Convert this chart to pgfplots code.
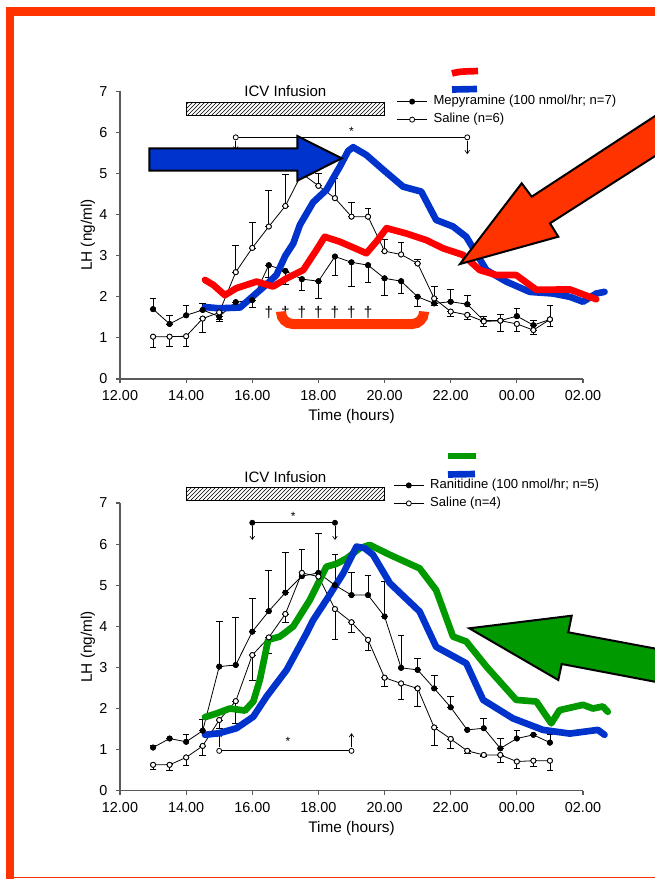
\documentclass[border=0pt]{standalone}
\usepackage{fontspec}
\setmainfont{Liberation Sans}
\usepackage{pgfplots}
\pgfplotsset{compat=1.18}
\usepackage{pgfplotstable}
\usetikzlibrary{patterns,arrows.meta}
\definecolor{myblue}{RGB}{0,51,204}
\definecolor{myred}{RGB}{255,0,0}
\definecolor{myorange}{RGB}{255,51,0}
\definecolor{mygreen}{RGB}{0,153,0}
\definecolor{axgray}{RGB}{90,90,90}

\pgfplotstableread{
t v ep em
13.0 1.70 0.26 0
13.5 1.34 0.20 0
14.0 1.55 0.23 0
14.5 1.68 0.15 0
15.0 1.52 0 0.12
15.5 1.87 0 0.08
16.0 1.92 0 0.17
16.5 2.77 0 0.30
17.0 2.63 0 0.34
17.5 2.43 0 0.28
18.0 2.38 0 0.43
18.5 2.98 0 0.46
19.0 2.84 0 0.58
19.5 2.77 0 0.43
20.0 2.45 0 0.41
20.5 2.38 0 0.30
21.0 2.00 0 0.24
21.5 1.84 0.42 0
22.0 1.88 0.29 0
22.5 1.82 0.22 0
23.0 1.42 0.11 0
23.5 1.42 0.15 0
24.0 1.53 0.20 0
24.5 1.31 0.11 0
25.0 1.45 0 0
}\mT

\pgfplotstableread{
t v ep em
13.0 1.03 0 0.27
13.5 1.03 0 0.24
14.0 1.04 0 0.25
14.5 1.47 0 0.34
15.0 1.62 0 0.18
15.5 2.60 0.64 0
16.0 3.19 0.61 0
16.5 3.71 0.87 0
17.0 4.21 0.77 0
17.5 5.00 0 0
18.0 4.70 0.30 0
18.5 4.40 0.48 0
19.0 3.95 0.34 0
19.5 3.95 0.19 0
20.0 3.11 0.28 0
20.5 3.03 0.29 0
21.0 2.81 0.09 0
21.5 1.96 0 0.17
22.0 1.64 0 0.12
22.5 1.56 0 0.10
23.0 1.40 0 0.11
23.5 1.42 0 0.27
24.0 1.34 0 0.17
24.5 1.19 0 0.10
25.0 1.45 0.35 0.18
}\sT

\pgfplotstableread{
t v ep em
13.0 1.05 0.06 0
13.5 1.27 0 0
14.0 1.19 0.19 0
14.5 1.46 0.28 0
15.0 3.02 1.09 0
15.5 3.06 1.16 0
16.0 3.87 0.80 0
16.5 4.37 0.98 0
17.0 4.82 0.97 0
17.5 5.22 0.64 0
18.0 5.30 0.95 0
18.5 5.00 0.74 0
19.0 4.76 0.55 0
19.5 4.76 0.49 0
20.0 4.24 0.85 0
20.5 2.99 0.78 0
21.0 2.94 0.28 0
21.5 2.49 0.31 0
22.0 2.03 0.26 0
22.5 1.48 0 0
23.0 1.52 0.24 0
23.5 1.03 0.24 0
24.0 1.27 0.19 0
24.5 1.36 0 0
25.0 1.17 0.21 0
}\rB

\pgfplotstableread{
t v ep em
13.0 0.63 0 0.11
13.5 0.63 0 0.13
14.0 0.81 0 0.20
14.5 1.09 0 0.22
15.0 1.72 0 0.20
15.5 2.18 0 0.54
16.0 3.30 0 0.62
16.5 3.73 0 0.39
17.0 4.30 0 0.20
17.5 5.30 0 0
18.0 5.21 0 0
18.5 4.42 0 0.74
19.0 4.10 0 0.25
19.5 3.67 0 0.26
20.0 2.75 0 0.22
20.5 2.61 0 0.38
21.0 2.49 0 0.45
21.5 1.54 0 0.43
22.0 1.26 0 0.23
22.5 0.97 0 0.06
23.0 0.87 0 0.04
23.5 0.87 0 0.17
24.0 0.71 0 0.16
24.5 0.73 0 0.13
25.0 0.73 0 0.23
}\sB

\pgfplotsset{
 lhaxis/.style={
  scale only axis, width=347.25pt, height=215.78pt,
  xmin=12, xmax=26, ymin=0, ymax=7,
  axis x line*=bottom, axis y line*=left,
  axis line style={axgray, line width=0.8pt},
  tick style={axgray, line width=0.8pt},
  tick align=outside, major tick length=3pt,
  xtick={12,14,...,26},
  xticklabels={12.00,14.00,16.00,18.00,20.00,22.00,00.00,02.00},
  ytick={0,1,...,7},
  /pgf/number format/assume math mode=true,
  ticklabel style={font=\fontsize{10.8}{12}\selectfont},
  xticklabel style={yshift=-2pt},
  yticklabel style={xshift=-3pt},
  xlabel={Time (hours)}, ylabel={LH (ng/ml)},
  label style={font=\fontsize{11.5}{13}\selectfont},
  xlabel style={at={(axis description cs:0.5,-0.132)}, anchor=center},
  ylabel style={at={(axis description cs:-0.0691,0.5)}, anchor=center},
  clip=false,
  legend style={draw=none, fill=none, font=\fontsize{9.8}{11}\selectfont,
    inner sep=0pt, row sep=1.5pt, column sep=3pt,
    nodes={inner sep=1.5pt, text height=7pt, text depth=2pt}},
  legend cell align=left,
  legend image code/.code={\draw[#1, mark repeat=2, mark phase=2] plot coordinates {(0pt,0pt) (11.25pt,0pt) (22.5pt,0pt)};},
 },
 errp/.style={black, only marks, mark=none, forget plot,
   error bars/.cd, y dir=both, y explicit,
   error bar style={black, line width=0.6pt},
   error mark options={black, line width=0.6pt, mark size=2.5pt, rotate=90}},
 filled/.style={black, line width=0.6pt, mark=*, mark size=1.9pt, mark options={fill=black, solid}},
 hollow/.style={black, line width=0.6pt, mark=*, mark size=1.9pt, mark options={fill=white, solid}},
 trace/.style={line width=5pt, line join=round, line cap=round, forget plot},
}

\begin{document}
\begin{tikzpicture}
\path[use as bounding box] (0,0) rectangle (490.5pt,-659.25pt);

% ---------------- top panel ----------------
\begin{axis}[lhaxis, at={(90pt,-284.25pt)}, anchor=south west,
  legend style={at={(axis cs:20.36,6.53)}, anchor=west}]
\draw[black, line width=0.6pt, pattern=north east lines] (axis cs:14,6.42) rectangle (axis cs:20,6.72);
\node[font=\fontsize{11.3}{13}\selectfont] at (axis cs:17,7.0) {ICV Infusion};

\addplot[errp] table[x=t, y=v, y error plus=ep, y error minus=em] {\mT};
\addplot[errp] table[x=t, y=v, y error plus=ep, y error minus=em] {\sT};
\addplot[filled] table[x=t, y=v] {\mT};
\addlegendentry{Mepyramine (100 nmol/hr; n=7)}
\addplot[hollow] table[x=t, y=v] {\sT};
\addlegendentry{Saline (n=6)}

% significance line
\addplot[hollow, forget plot] coordinates {(15.5,5.88) (22.5,5.88)};
\draw[black, line width=0.5pt, -{Straight Barb[length=2.5pt,width=3.5pt]}] (axis cs:15.5,5.80) -- (axis cs:15.5,5.56);
\draw[black, line width=0.5pt, -{Straight Barb[length=2.5pt,width=3.5pt]}] (axis cs:22.5,5.80) -- (axis cs:22.5,5.47);
\node[font=\fontsize{9}{10}\selectfont] at (axis cs:19.0,6.02) {*};
\pgfplotsinvokeforeach{16.5,17,17.5,18,18.5,19,19.5}{\node[font=\fontsize{11.5}{12}\selectfont] at (axis cs:#1,1.63) {\textdagger};}

% overlaid traces
\addplot[trace, myblue] coordinates {(14.57,1.75) (15.0,1.72) (15.63,1.74) (16.0,2.0) (16.4,2.28) (16.73,2.53) (17.0,3.0) (17.24,3.3) (17.44,3.75) (17.84,4.3) (18.24,4.6) (18.65,5.17) (18.9,5.55) (19.05,5.64) (19.45,5.45) (19.96,5.09) (20.56,4.68) (21.11,4.56) (21.56,3.87) (22.07,3.71) (22.47,3.46) (22.77,3.06) (23.08,2.65) (23.68,2.37) (24.39,2.12) (25.09,2.08) (25.6,2.0) (26.0,1.88) (26.4,2.08) (26.65,2.12)};
\addplot[trace, myred] coordinates {(14.57,2.41) (14.82,2.29) (15.17,2.04) (15.52,2.21) (16.13,2.37) (16.63,2.25) (17.04,2.45) (17.54,2.65) (17.94,3.14) (18.19,3.46) (18.65,3.34) (19.45,3.06) (19.75,3.34) (20.06,3.67) (20.66,3.54) (21.26,3.38) (21.77,3.18) (22.37,3.02) (22.88,2.65) (23.38,2.53) (23.98,2.53) (24.59,2.17) (25.6,2.18) (26.4,1.94)};
\end{axis}

% ---------------- bottom panel ----------------
\begin{axis}[lhaxis, at={(90pt,-593.03pt)}, anchor=south west,
  legend style={at={(axis cs:20.26,7.21)}, anchor=west}]
\draw[black, line width=0.6pt, pattern=north east lines] (axis cs:14,7.07) rectangle (axis cs:20,7.38);
\node[font=\fontsize{11.3}{13}\selectfont] at (axis cs:17,7.64) {ICV Infusion};

\addplot[errp] table[x=t, y=v, y error plus=ep, y error minus=em] {\rB};
\addplot[errp] table[x=t, y=v, y error plus=ep, y error minus=em] {\sB};
\addplot[filled] table[x=t, y=v] {\rB};
\addlegendentry{Ranitidine (100 nmol/hr; n=5)}
\addplot[hollow] table[x=t, y=v] {\sB};
\addlegendentry{Saline (n=4)}

\addplot[filled, forget plot] coordinates {(16.0,6.52) (18.5,6.52)};
\draw[black, line width=0.5pt, -{Straight Barb[length=2.5pt,width=3.5pt]}] (axis cs:16.0,6.44) -- (axis cs:16.0,6.10);
\draw[black, line width=0.5pt, -{Straight Barb[length=2.5pt,width=3.5pt]}] (axis cs:18.5,6.44) -- (axis cs:18.5,6.10);
\node[font=\fontsize{9}{10}\selectfont] at (axis cs:17.24,6.67) {*};

\addplot[hollow, forget plot] coordinates {(15.0,0.97) (19.0,0.97)};
\draw[black, line width=0.5pt, -{Straight Barb[length=2.5pt,width=3.5pt]}] (axis cs:15.0,1.06) -- (axis cs:15.0,1.40);
\draw[black, line width=0.5pt, -{Straight Barb[length=2.5pt,width=3.5pt]}] (axis cs:19.0,1.06) -- (axis cs:19.0,1.40);
\node[font=\fontsize{9}{10}\selectfont] at (axis cs:17.08,1.19) {*};

\addplot[trace, mygreen] coordinates {(14.57,1.79) (14.92,1.88) (15.32,2.0) (15.78,1.95) (16.03,2.17) (16.23,2.7) (16.48,3.67) (16.83,3.75) (17.0,3.85) (17.24,4.0) (17.74,4.64) (18.24,5.45) (18.54,5.52) (18.85,5.65) (19.25,5.90) (19.55,5.98) (20.16,5.74) (21.06,5.41) (21.56,4.88) (22.07,3.75) (22.47,3.63) (23.08,3.02) (23.98,2.21) (24.59,2.17) (25.04,1.64) (25.29,1.96) (26.0,2.09) (26.3,2.0) (26.6,2.05) (26.75,1.92)};
\addplot[trace, myblue] coordinates {(14.57,1.36) (15.0,1.40) (15.52,1.52) (16.03,1.80) (16.43,2.29) (17.04,2.94) (17.64,3.83) (17.84,4.15) (18.24,4.64) (18.75,5.29) (19.15,5.94) (19.4,5.9) (19.65,5.74) (20.16,5.05) (21.06,4.36) (21.56,3.50) (22.47,3.10) (22.98,2.21) (23.88,1.76) (24.79,1.48) (25.6,1.39) (26.45,1.48) (26.65,1.36)};
\end{axis}

% ---------------- decorations (pixel units) ----------------
\begin{scope}[x=0.75pt, y=-0.75pt]
% frame
\fill[myorange] (6,7) rectangle (660,16);
\fill[myorange] (6,7) rectangle (14,880);
\fill[myorange] (14,876.5) rectangle (660,878);
% small colour keys
\draw[myred, line width=5pt] (452,73.5) .. controls (460,71) and (468,71.5) .. (478,71);
\draw[myblue, line width=5pt] (452,89.5) -- (477,89);
\draw[mygreen, line width=5pt] (448,456) -- (476,456);
\draw[myblue, line width=5pt] (448,474.5) -- (475,474);
% bracket
\draw[myorange, line width=7.5pt, rounded corners=9pt] (281,313.3) -- (281,324) -- (424,324) -- (424,313.3);
% blue arrow
\draw[black, line width=1.5pt, fill=myblue, line join=miter] (149.3,148.3) -- (297.3,148.3) -- (297.3,136) -- (341.7,158.3) -- (297.3,180.7) -- (297.3,170.7) -- (149.3,170.7) -- cycle;
% orange arrow
\draw[black, line width=1.5pt, fill=myorange, line join=miter] (680,99.7) -- (531.7,196.7) -- (521.7,183.3) -- (460,264) -- (558.3,236.7) -- (550,223.3) -- (680,140.1);
% green arrow
\draw[black, line width=1.5pt, fill=mygreen, line join=miter] (680,653.2) -- (568.3,632.3) -- (571.7,615.7) -- (469.3,628.3) -- (558.3,680) -- (561.7,664) -- (680,686.5);
\end{scope}
\end{tikzpicture}
\end{document}
